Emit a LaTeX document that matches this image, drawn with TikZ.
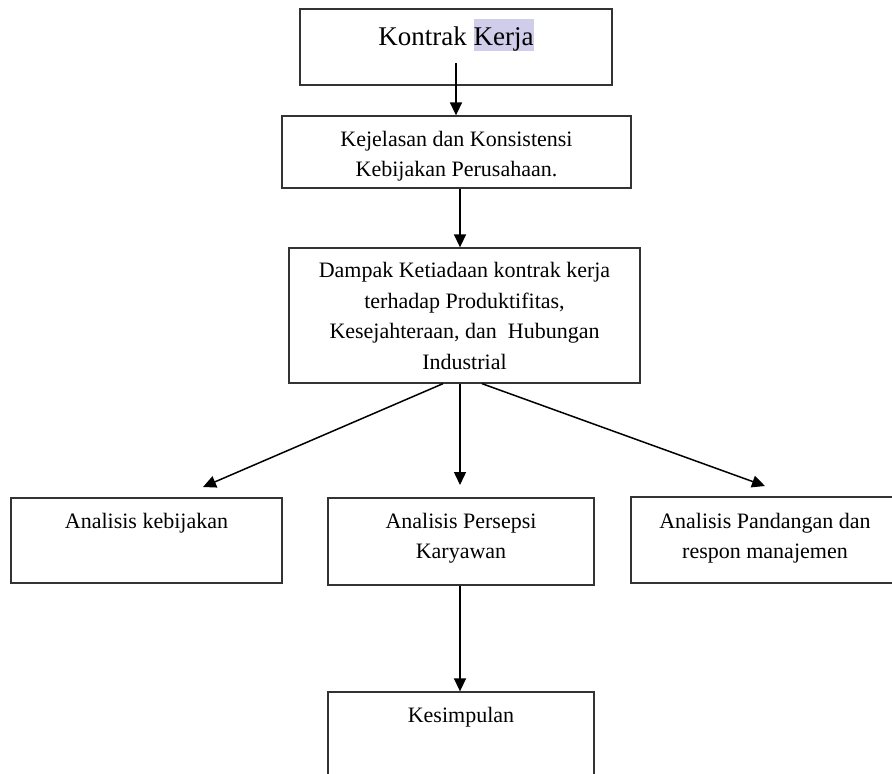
\documentclass[tikz,border=0pt]{standalone}
\usepackage{fontspec}
\setmainfont{Liberation Serif}
\usetikzlibrary{arrows.meta,positioning}
\definecolor{sorot}{RGB}{207,205,233}
\newcommand{\sorot}[1]{{\setlength{\fboxsep}{0pt}\colorbox{sorot}{\rule[-3pt]{0pt}{29pt}#1}}}
\tikzset{
  kotak/.style={draw=black!80, line width=1.3pt, inner sep=0pt},
  teks/.style={font=\fontsize{22}{30}\selectfont, align=center, inner sep=0pt, anchor=base},
  panah/.style={line width=1.5pt, -{Triangle[length=13pt,width=12pt]}}
}
\begin{document}
\begin{tikzpicture}[x=1pt,y=-1pt]
        \useasboundingbox (0,0) rectangle (892,774);
        \clip (0,0) rectangle (892,774);
        \coordinate (sumbu) at (460,0);

        \node[kotak, minimum width=312pt, minimum height=76pt] (kontrak) at (456,47) {};
        \node[teks, font=\fontsize{27}{32}\selectfont] (tkontrak) at (456,45) {Kontrak \sorot{Kerja}};
        \coordinate (a1) at (456,63);

        \node[kotak, minimum width=349pt, minimum height=72pt] (kejelasan) at (456.5,152) {};
        \node[teks] (tkejelasan) at (456.5,176) {Kejelasan dan Konsistensi\\Kebijakan Perusahaan.};

        \node[kotak, minimum width=351pt, minimum height=135pt] (dampak) at (464.5,315.5) {};
        \node[teks, font=\fontsize{22}{30.5}\selectfont] (tdampak) at (464.5,369) {Dampak Ketiadaan kontrak kerja\\terhadap Produktifitas,\\Kesejahteraan, dan\ \ Hubungan\\Industrial};

        \coordinate (u4) at (203,487);
        \coordinate (u5) at (460,485);
        \coordinate (u6) at (765,486);

        \node[kotak, minimum width=271pt, minimum height=85pt] (kebijakan) at (146.5,540.5) {};
        \node[teks] (tkebijakan) at (146.5,528) {Analisis kebijakan};
        \node[kotak, minimum width=266pt, minimum height=87pt] (persepsi) at (461,541.5) {};
        \node[teks] (tpersepsi) at (461,558) {Analisis Persepsi\\Karyawan};
        \node[kotak, minimum width=268pt, minimum height=86pt] (pandangan) at (765,540) {};
        \node[teks] (tpandangan) at (765,558) {Analisis Pandangan dan\\respon manajemen};

        \node[kotak, minimum width=266pt, minimum height=108pt] (kesimpulan) at (461,746) {};
        \node[teks] (tkesimpulan) at (461,722) {Kesimpulan};

        \draw[panah] (a1) -- (a1 |- kejelasan.north);
        \draw[panah] (kejelasan.south -| sumbu) -- (dampak.north -| sumbu);
        \draw[panah] ([xshift=-21.5pt]dampak.south) -- (u4);
        \draw[panah] (dampak.south -| sumbu) -- (u5);
        \draw[panah] ([xshift=17.5pt]dampak.south) -- (u6);
        \draw[panah] (persepsi.south -| sumbu) -- (kesimpulan.north -| sumbu);
\end{tikzpicture}
\end{document}
